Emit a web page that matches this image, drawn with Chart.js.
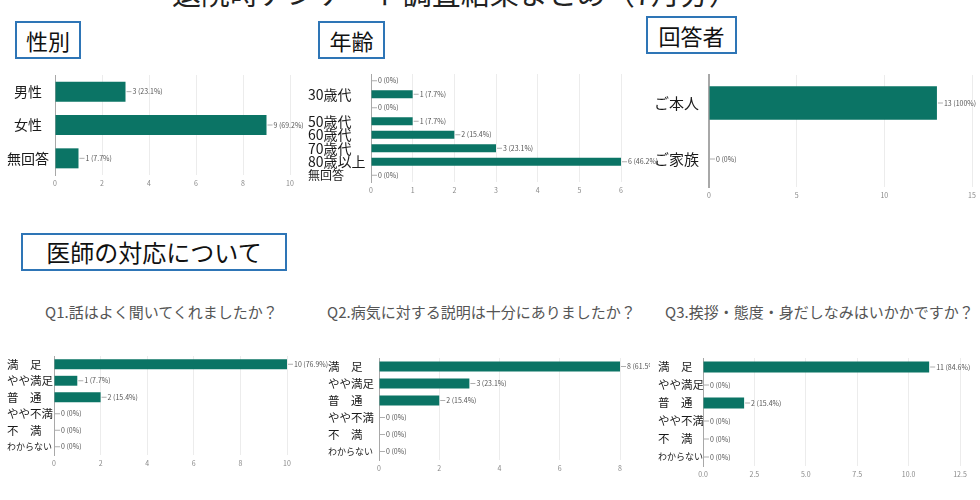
<!DOCTYPE html>
<html lang="ja">
<head>
<meta charset="utf-8">
<script src="https://cdn.jsdelivr.net/npm/chart.js@4"></script>
<style>
  body { margin: 0; background: #fff; }
  #page { position: relative; width: 980px; height: 500px; overflow: hidden;
    font-family: "Noto Sans CJK JP", "Noto Sans", sans-serif; }
  .title { position: absolute; left: 0; width: 910px; top: -29px; text-align: center;
    font-size: 29px; color: #222; white-space: nowrap; }
  .box { position: absolute; border: 2px solid #2e75b6; box-sizing: border-box;
    color: #111; text-align: center; white-space: nowrap; }
  .q { position: absolute; color: #555; font-size: 15px; white-space: nowrap; }
  canvas { position: absolute; }
</style>
</head>
<body>
<div id="page">
  <div class="title">退院時アンケート調査結果まとめ（7月分）</div>
  <div class="box" style="left:15px;top:21px;width:66px;height:38px;font-size:22px;line-height:34px;">性別</div>
  <div class="box" style="left:318px;top:21px;width:67px;height:38px;font-size:22px;line-height:34px;">年齢</div>
  <div class="box" style="left:646px;top:16px;width:91px;height:38px;font-size:22px;line-height:34px;">回答者</div>
  <div class="box" style="left:21px;top:233px;width:266px;height:38px;font-size:24px;line-height:34px;">医師の対応について</div>
  <div class="q" style="left:45px;top:301px;">Q1.話はよく聞いてくれましたか？</div>
  <div class="q" style="left:327px;top:301px;">Q2.病気に対する説明は十分にありましたか？</div>
  <div class="q" style="left:665px;top:301px;">Q3.挨拶・態度・身だしなみはいかかですか？</div>

  <canvas id="cGender" width="320" height="125" style="left:0;top:70px;"></canvas>
  <canvas id="cAge" width="370" height="135" style="left:300px;top:70px;"></canvas>
  <canvas id="cResp" width="340" height="135" style="left:640px;top:70px;"></canvas>
  <canvas id="cQ1" width="330" height="125" style="left:0;top:350px;"></canvas>
  <canvas id="cQ2" width="340" height="125" style="left:310px;top:350px;"></canvas>
  <canvas id="cQ3" width="340" height="135" style="left:640px;top:350px;"></canvas>
</div>
<script>
// 性別
const genderLabels = ['男性', '女性', '無回答'];
const genderValues = [3, 9, 1];

// 年齢
const ageLabels = ['20歳代', '30歳代', '40歳代', '50歳代', '60歳代', '70歳代', '80歳以上', '無回答'];
const ageValues = [0, 1, 0, 1, 2, 3, 6, 0];
const ageShown = ['30歳代', '50歳代', '60歳代', '70歳代', '80歳以上', '無回答'];

// 回答者
const respLabels = ['ご本人', 'ご家族'];
const respValues = [13, 0];

// 医師の対応について
const answerLabels = ['満　足', 'やや満足', '普　通', 'やや不満', '不　満', 'わからない'];
const q1Values = [10, 1, 2, 0, 0, 0];
const q2Values = [8, 3, 2, 0, 0, 0];
const q3Values = [11, 0, 2, 0, 0, 0];

const barColor = '#0b7465';
const fontFamily = '"Noto Sans CJK JP", "Noto Sans", sans-serif';

// 棒の右に「値 (割合%)」を描く
const valueLabelPlugin = {
  id: 'valueLabel',
  afterDatasetsDraw(chart) {
    const ctx = chart.ctx;
    const data = chart.data.datasets[0].data;
    const total = data.reduce((a, b) => a + b, 0);
    const meta = chart.getDatasetMeta(0);
    ctx.save();
    ctx.font = '7px ' + fontFamily;
    ctx.textBaseline = 'middle';
    meta.data.forEach((bar, i) => {
      const pct = Math.round(data[i] / total * 1000) / 10;
      const x = bar.x, y = bar.y;
      ctx.strokeStyle = '#999';
      ctx.lineWidth = 0.8;
      ctx.beginPath();
      ctx.moveTo(x + 1, y);
      ctx.lineTo(x + 6, y);
      ctx.stroke();
      ctx.fillStyle = '#555';
      ctx.fillText(data[i] + ' (' + pct + '%)', x + 7, y);
    });
    ctx.restore();
  }
};

function makeChart(id, labels, values, o) {
  return new Chart(document.getElementById(id), {
    type: 'bar',
    data: {
      labels: labels,
      datasets: [{
        data: values,
        backgroundColor: barColor,
        borderWidth: 0,
        barPercentage: o.barPct,
        categoryPercentage: 1
      }]
    },
    options: {
      indexAxis: 'y',
      responsive: false,
      animation: false,
      layout: { padding: o.padding },
      plugins: { legend: { display: false }, tooltip: { enabled: false } },
      scales: {
        x: {
          min: 0,
          max: o.max,
          afterFit: s => { s.height = o.xHeight; s.paddingLeft = 0; s.paddingRight = 0; },
          grid: { color: '#ececec', lineWidth: 1, drawTicks: false },
          border: { display: false },
          ticks: {
            stepSize: o.step,
            padding: 4,
            color: '#888',
            font: { size: 7, family: fontFamily },
            callback: o.xFormat || (v => v)
          }
        },
        y: {
          afterFit: s => { s.width = o.yWidth; s.paddingTop = 0; s.paddingBottom = 0; },
          grid: { display: false, drawTicks: false },
          border: { color: '#a8a8a8', width: o.axisWidth || 1 },
          ticks: {
            autoSkip: false,
            crossAlign: o.align,
            padding: o.tickPad || 0,
            color: '#1a1a1a',
            font: o.font,
            callback: o.yFormat || function (v) { return this.getLabelForValue(v); }
          }
        }
      }
    },
    plugins: [valueLabelPlugin]
  });
}

makeChart('cGender', genderLabels, genderValues, {
  max: 10, step: 2, barPct: 0.6,
  padding: { top: 5, right: 30, left: 0, bottom: 0 },
  yWidth: 55, xHeight: 20, align: 'center', tickPad: 6,
  font: { size: 14, family: fontFamily }
});

makeChart('cAge', ageLabels, ageValues, {
  max: 6, step: 1, barPct: 0.6,
  padding: { top: 4, right: 49, left: 8, bottom: 0 },
  yWidth: 63, xHeight: 23, align: 'far',
  font: ctx => ({ size: ctx.index === 7 ? 12 : 14, family: fontFamily }),
  yFormat: function (v) {
    const name = this.getLabelForValue(v);
    return ageShown.includes(name) ? name : '';
  }
});

makeChart('cResp', respLabels, respValues, {
  max: 15, step: 5, barPct: 0.6,
  padding: { top: 5, right: 8, left: 0, bottom: 0 },
  yWidth: 69, xHeight: 18, align: 'near', tickPad: 10, axisWidth: 2,
  font: { size: 15, family: fontFamily }
});

const answerFont = ctx => ({ size: ctx.index === 5 ? 9 : 11.5, family: fontFamily });

makeChart('cQ1', answerLabels, q1Values, {
  max: 10, step: 2, barPct: 0.6,
  padding: { top: 6, right: 43, left: 7, bottom: 0 },
  yWidth: 47, xHeight: 20, align: 'far', font: answerFont
});

makeChart('cQ2', answerLabels, q2Values, {
  max: 8, step: 2, barPct: 0.6,
  padding: { top: 8, right: 30, left: 18, bottom: 0 },
  yWidth: 51, xHeight: 15, align: 'far', font: answerFont
});

makeChart('cQ3', answerLabels, q3Values, {
  max: 12.5, step: 2.5, barPct: 0.6,
  padding: { top: 8, right: 20, left: 18, bottom: 0 },
  yWidth: 45, xHeight: 19, align: 'far', font: answerFont,
  xFormat: v => Number(v).toFixed(1)
});
</script>
</body>
</html>
